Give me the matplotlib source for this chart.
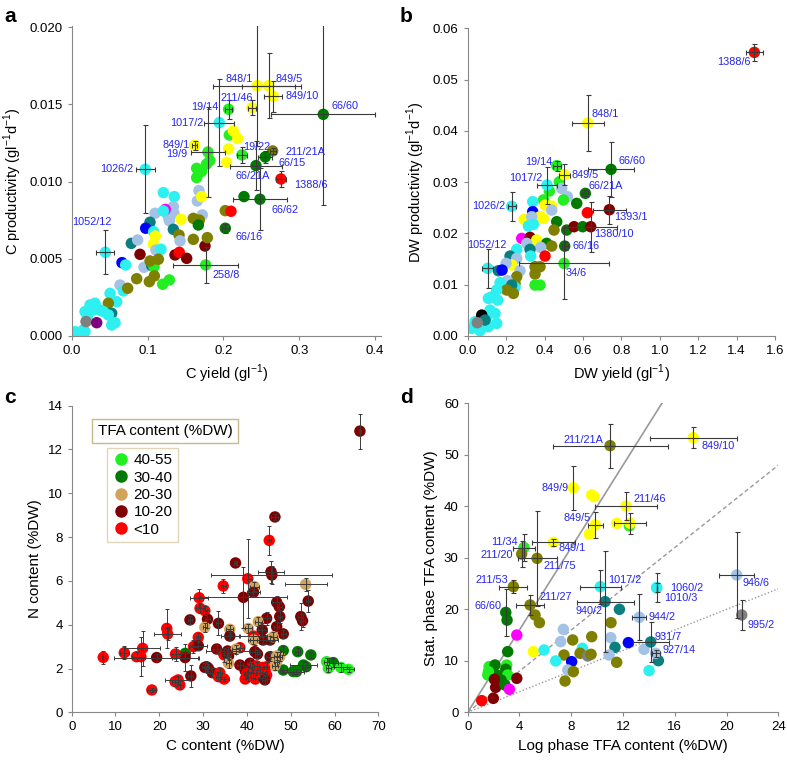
import matplotlib
matplotlib.use('Agg')
import matplotlib.pyplot as plt
import numpy as np
from matplotlib.lines import Line2D

from matplotlib import rcParams
rcParams['font.family'] = 'sans-serif'
rcParams['font.sans-serif'] = ['Liberation Sans', 'DejaVu Sans']
rcParams['font.size'] = 9

col = {'cy': '#2EF0F0', 'lb': '#A4C2E6', 'te': '#0A7F7F', 'ol': '#7F7F00',
       'ye': '#FFFF00', 'li': '#22EE22', 'dg': '#007A00', 're': '#FF0000',
       'dr': '#7F0000', 'bl': '#0000FF', 'ma': '#FF00FF', 'pu': '#800080',
       'gr': '#808080', 'bk': '#000000', 'ta': '#D2A35A'}

# ---------------- panel a: C yield vs C productivity ----------------
a_lab_names = ['848/1', '849/5', '849/10', '211/46', '19/14', '1017/2', '66/60', '849/1',
               '19/9', '19/22', '211/21A', '66/15', '66/21A', '1388/6', '66/62', '66/16',
               '258/8', '1026/2', '1052/12']
a_lab_x = [0.2447, 0.2596, 0.2658, 0.2376, 0.2068, 0.1945, 0.3318, 0.1619,
           0.1795, 0.2244, 0.2649, 0.2552, 0.2429, 0.2759, 0.2482, 0.2024,
           0.1765, 0.0968, 0.044]
a_lab_y = [0.01622, 0.01622, 0.01553, 0.01479, 0.01469, 0.01382, 0.01436, 0.01235,
           0.01192, 0.01173, 0.01199, 0.0116, 0.01104, 0.01017, 0.00886, 0.00698,
           0.0046, 0.0108, 0.00542]
a_lab_xerr = [0.058, 0.035, 0.012, 0.005, 0.005, 0.0198, 0.0687, 0.003,
              0.0229, 0.007, 0.004, 0.009, 0.0348, 0.0066, 0.0352, 0.005,
              0.043, 0.0128, 0.012]
a_lab_yerr = [0.0039, 0.0021, 0.001, 0.0005, 0.0006, 0.0028, 0.0059, 0.0003,
              0.0029, 0.0005, 0.0002, 0.0004, 0.0016, 0.0005, 0.002, 0.0003,
              0.00118, 0.00285, 0.00142]
a_lab_c = ['ye', 'ye', 'ye', 'ye', 'li', 'cy', 'dg', 'ye', 'li', 'li', 'ol', 'dg', 'dg',
           're', 'dg', 'dg', 'li', 'cy', 'cy']
a_lab_off = [(-4, 7, 'right'), (7, 7, 'left'), (12, 0, 'left'), (1, 10, 'right'),
             (-10, 2, 'right'), (-16, 0, 'right'), (8, 8, 'left'), (-5, 0, 'right'),
             (-21, -2, 'right'), (1, 8, 'left'), (13, -1, 'left'), (13, -6, 'left'),
             (-3, -10, 'center'), (13, -6, 'left'), (12, -11, 'left'), (10, -9, 'left'),
             (7, -10, 'left'), (-12, 0, 'right'), (-13, 30, 'center')]

a_x = [0.2077, 0.213, 0.2187, 0.2068, 0.2042, 0.1646, 0.171, 0.1646, 0.1778, 0.182,
       0.1206, 0.135, 0.1676, 0.1655, 0.171, 0.172, 0.1338, 0.1346, 0.1272, 0.1232,
       0.1096, 0.1206, 0.1285, 0.103, 0.0973, 0.1078, 0.11, 0.1338, 0.1413, 0.1426,
       0.144, 0.0783, 0.0867, 0.1074, 0.1109, 0.1175, 0.0898, 0.136, 0.1417, 0.1514,
       0.1756, 0.1602, 0.1681, 0.1668, 0.1602, 0.1787, 0.2024, 0.2099, 0.2271, 0.066,
       0.0708, 0.095, 0.1052, 0.1083, 0.103, 0.114, 0.0854, 0.1021, 0.1087, 0.1197,
       0.1285, 0.0634, 0.0678, 0.0735, 0.0502, 0.059, 0.048, 0.0524, 0.0238, 0.0304,
       0.037, 0.0172, 0.0202, 0.0414, 0.048, 0.0568, 0.0524, 0.015, 0.004, 0.0106,
       0.0172, 0.0282, 0.0185, 0.0326]
a_y = [0.01302, 0.01328, 0.0128, 0.01212, 0.01125, 0.01086, 0.01065, 0.01026, 0.01114, 0.01136,
       0.00929, 0.00903, 0.00942, 0.00875, 0.00903, 0.00784, 0.00838, 0.00795, 0.00773, 0.0082,
       0.00795, 0.0081, 0.00747, 0.00737, 0.00698, 0.00676, 0.00648, 0.00691, 0.00654, 0.00616,
       0.00756, 0.006, 0.00622, 0.00596, 0.00557, 0.00562, 0.00529, 0.00525, 0.00542, 0.00503,
       0.00583, 0.00762, 0.00751, 0.00719, 0.00626, 0.00637, 0.00812, 0.00808, 0.00903, 0.00475,
       0.0046, 0.00445, 0.00456, 0.00449, 0.00486, 0.00497, 0.00371, 0.00352, 0.00389, 0.00335,
       0.00363, 0.0033, 0.00292, 0.00309, 0.00276, 0.00222, 0.00212, 0.00147, 0.00201, 0.00212,
       0.00168, 0.00158, 0.00125, 0.00158, 0.00136, 0.00086, 0.00071, 0.00039, 0.00028, 0.00017,
       0.00028, 0.00168, 0.00093, 0.00086]
a_c = ['li', 'ye', 'ye', 'ye', 'ye', 'li', 'li', 'li', 'li', 'li',
       'cy', 'cy', 'lb', 'lb', 'ye', 'lb', 'lb', 'lb', 'lb', 'ma',
       'lb', 'cy', 'lb', 'te', 'bl', 'cy', 'ye', 'te', 'ol', 'lb',
       'ye', 'te', 'lb', 'ye', 'lb', 'cy', 'dr', 'dr', 're', 'dr',
       'dr', 'ol', 'ol', 'dg', 'ol', 'ol', 'ol', 're', 'dg', 'bl',
       'cy', 'lb', 'te', 'li', 'ol', 'ol', 'ol', 'ol', 'ol', 'li',
       'li', 'lb', 'cy', 'ol', 'cy', 'cy', 'ol', 'te', 'cy', 'cy',
       'cy', 'cy', 'cy', 'cy', 'cy', 'cy', 'cy', 'cy', 'cy', 'cy',
       'cy', 'cy', 'gr', 'pu']

# ---------------- panel b: DW yield vs DW productivity ----------------
b_lab_names = ['1388/6', '848/1', '19/14', '849/5', '66/60', '1017/2', '66/21A', '1026/2',
               '1393/1', '1380/10', '66/16', '34/6', '1052/12']
b_lab_x = [1.4924, 0.6247, 0.4633, 0.5033, 0.7462, 0.413, 0.6126, 0.229,
           0.7375, 0.6403, 0.505, 0.5015, 0.104]
b_lab_y = [0.05531, 0.04152, 0.0332, 0.03143, 0.03247, 0.02941, 0.02779, 0.02525,
           0.0246, 0.02128, 0.0175, 0.01412, 0.01315]
b_lab_xerr = [0.043, 0.0824, 0.02, 0.03, 0.1215, 0.052, 0.015, 0.02,
              0.085, 0.139, 0.015, 0.235, 0.03]
b_lab_yerr = [0.0016, 0.0055, 0.001, 0.002, 0.0054, 0.0036, 0.0006, 0.0028,
              0.0027, 0.0049, 0.0007, 0.007, 0.0038]
b_lab_c = ['re', 'ye', 'li', 'ye', 'dg', 'cy', 'dg', 'cy', 'dr', 'dr', 'dg', 'li', 'cy']
b_lab_off = [(-20, -10, 'center'), (4, 9, 'left'), (-4, 4, 'right'), (7, 0, 'left'),
             (7, 8, 'left'), (-5, 7, 'right'), (3, 7, 'left'), (-6, 0, 'right'),
             (5, -7, 'left'), (3, -7, 'left'), (8, 0, 'left'), (2, -10, 'left'),
             (-1, 23, 'center')]

b_x = [0.4772, 0.4894, 0.5189, 0.498, 0.4251, 0.394, 0.5675, 0.623, 0.4026, 0.4373,
       0.4373, 0.3384, 0.3384, 0.2933, 0.3766, 0.394, 0.3332, 0.3419, 0.316, 0.4633,
       0.4494, 0.5154, 0.5536, 0.5987, 0.2811, 0.3245, 0.3592, 0.3072, 0.4113, 0.4373,
       0.38, 0.3245, 0.4026, 0.2551, 0.2204, 0.2551, 0.328, 0.3506, 0.3766, 0.3506,
       0.2291, 0.1996, 0.2725, 0.2551, 0.2464, 0.3506, 0.3766, 0.1597, 0.1788, 0.2065,
       0.1684, 0.2464, 0.229, 0.203, 0.2377, 0.151, 0.125, 0.1076, 0.1562, 0.1163,
       0.1423, 0.0989, 0.151, 0.1076, 0.0642, 0.0382, 0.0208, 0.0642, 0.0729, 0.0902,
       0.0503]
b_y = [0.03006, 0.02876, 0.02714, 0.0265, 0.02824, 0.0265, 0.02584, 0.02401, 0.02551, 0.02532,
       0.02453, 0.02616, 0.02421, 0.02271, 0.02323, 0.02291, 0.02323, 0.02174, 0.02141, 0.02226,
       0.02063, 0.02063, 0.02128, 0.02128, 0.019, 0.0192, 0.01868, 0.01803, 0.01803, 0.0175,
       0.01725, 0.01686, 0.01555, 0.01686, 0.01555, 0.0151, 0.01555, 0.01347, 0.01347, 0.01204,
       0.0138, 0.01412, 0.01269, 0.01152, 0.01022, 0.00989, 0.00989, 0.01269, 0.01282, 0.01074,
       0.01035, 0.00944, 0.00989, 0.00892, 0.00826, 0.00892, 0.00761, 0.00729, 0.00696, 0.00501,
       0.00436, 0.00371, 0.00241, 0.00176, 0.00306, 0.00273, 0.00143, 0.00098, 0.00403, 0.00306,
       0.00254]
b_c = ['li', 'lb', 'lb', 'li', 'li', 'li', 'dg', 're', 'ye', 'ye',
       'lb', 'cy', 'bl', 'ye', 'ye', 'ye', 'lb', 'cy', 'cy', 'dg',
       'ol', 'dg', 'dr', 'dg', 'ma', 'dr', 'ye', 'lb', 'dg', 'ol',
       'lb', 'te', 're', 'cy', 'te', 'lb', 'cy', 'ol', 'ol', 'ol',
       'ye', 'lb', 'lb', 'ol', 'ol', 'li', 'li', 'te', 'bl', 'lb',
       'cy', 'cy', 'te', 'ol', 'ol', 'cy', 'cy', 'cy', 'cy', 'cy',
       'cy', 'cy', 'cy', 'cy', 'cy', 'cy', 'cy', 'cy', 'bk', 'te',
       'gr']

# ---------------- panel c: C content vs N content ----------------
c_x = [65.8, 46.4, 45.1, 37.4, 40.2, 45.5, 45.7, 53.4, 34.6, 41.7, 41.5, 39.2, 29.1, 54.0,
       46.8, 47.4, 29.3, 30.4, 27.0, 31.0, 52.3, 52.7, 44.5, 47.5, 33.5, 30.4, 42.6, 40.3,
       46.8, 48.3, 43.5, 21.7, 21.9, 28.9, 36.1, 36.1, 41.5, 43.7, 45.3, 46.0, 41.5, 27.8,
       28.9, 38.4, 33.1, 35.6, 37.5, 48.3, 51.6, 54.6, 58.2, 59.7, 58.6, 61.4, 63.2, 52.9,
       53.5, 48.3, 50.6, 51.3, 25.9, 25.9, 23.7, 7.2, 12.0, 16.2, 14.8, 15.8, 19.4, 34.8,
       35.4, 35.8, 41.8, 42.4, 45.3, 46.8, 47.5, 46.8, 30.8, 31.2, 35.8, 38.4, 40.7, 41.1,
       42.2, 43.7, 44.5, 46.4, 32.1, 33.8, 33.5, 34.8, 39.6, 40.0, 40.3, 41.5, 41.9, 43.0,
       43.7, 44.5, 44.1, 39.6, 27.2, 24.3, 24.7, 23.6, 18.3, 30.4]
c_y = [12.84, 8.92, 7.85, 6.82, 6.10, 6.42, 6.27, 5.84, 5.77, 5.74, 5.48, 5.25, 5.23, 5.08,
       5.02, 4.82, 4.75, 4.64, 4.22, 4.25, 4.37, 4.18, 4.29, 4.37, 4.06, 3.88, 4.14, 3.83,
       3.91, 3.58, 3.76, 3.83, 3.58, 3.42, 3.79, 3.48, 3.48, 3.30, 3.30, 3.45, 3.30, 3.00,
       3.04, 2.95, 2.89, 2.80, 2.88, 2.82, 2.77, 2.62, 2.31, 2.27, 2.01, 2.05, 1.96, 2.16,
       2.08, 1.93, 1.86, 1.86, 2.69, 2.50, 2.66, 2.51, 2.72, 2.92, 2.54, 2.54, 2.50, 2.62,
       2.69, 2.57, 2.77, 2.66, 2.54, 2.57, 2.54, 2.31, 2.08, 2.01, 2.24, 2.16, 2.24, 2.05,
       2.12, 2.05, 2.08, 2.12, 1.81, 1.81, 1.63, 1.52, 1.90, 1.78, 1.63, 1.78, 1.52, 1.78,
       1.78, 1.70, 1.48, 1.52, 1.66, 1.48, 1.25, 1.40, 1.02, 2.05]
c_xerr = [0.3, 0.8, 0.5, 0.4, 1.0, 3.0, 13.8, 4.8, 0.6, 1.0, 1.5, 10.0, 2.0, 0.5,
          1.0, 0.5, 1.0, 0.5, 0.5, 0.5, 0.6, 0.6, 0.8, 0.5, 0.5, 0.5, 0.8, 0.8,
          0.6, 0.6, 1.0, 0.5, 3.0, 0.5, 0.8, 2.0, 3.0, 3.5, 1.0, 0.8, 0.8, 1.0,
          2.0, 1.0, 0.8, 5.0, 0.8, 0.8, 0.6, 0.5, 0.6, 1.0, 0.5, 1.5, 1.3, 3.0,
          1.0, 0.8, 2.5, 0.8, 1.0, 3.0, 1.0, 0.3, 1.0, 4.0, 1.0, 1.0, 9.7, 0.8,
          2.0, 0.6, 1.0, 0.6, 1.0, 0.6, 0.6, 0.6, 0.6, 0.6, 0.6, 0.6, 0.6, 0.6,
          0.6, 0.6, 0.6, 0.6, 0.6, 0.6, 0.6, 1.0, 0.6, 0.6, 0.6, 0.6, 0.6, 0.6,
          0.6, 0.6, 0.6, 0.6, 0.6, 3.0, 0.6, 0.6, 1.0, 0.6]
c_yerr = [0.8, 0.12, 0.65, 0.1, 1.8, 0.5, 0.4, 0.3, 0.3, 0.2, 0.15, 1.4, 0.4, 0.5,
          0.3, 0.2, 0.2, 0.2, 0.2, 0.4, 0.6, 0.3, 0.3, 0.3, 0.55, 0.2, 0.2, 0.2,
          0.2, 0.2, 0.3, 0.9, 0.3, 0.2, 0.2, 0.2, 0.2, 0.2, 0.2, 0.2, 0.2, 0.3,
          0.2, 0.2, 0.2, 0.2, 0.2, 0.2, 0.15, 0.15, 0.15, 0.2, 0.15, 0.2, 0.1, 0.2,
          0.2, 0.15, 0.1, 0.1, 0.2, 0.6, 0.3, 0.3, 0.3, 0.8, 0.2, 0.9, 0.15, 0.3,
          0.2, 0.2, 0.3, 0.2, 0.2, 0.2, 0.2, 0.2, 0.2, 0.2, 0.2, 0.2, 0.2, 0.2,
          0.2, 0.2, 0.2, 0.2, 0.2, 0.2, 0.2, 0.1, 0.2, 0.2, 0.2, 0.2, 0.2, 0.2,
          0.2, 0.2, 0.2, 0.2, 0.5, 0.2, 0.2, 0.2, 0.1, 0.2]
c_c = ['dr', 'dr', 're', 'dr', 're', 'dr', 'dr', 'ta', 're', 'ta', 'dr', 'dr', 're', 'dr',
       'dr', 'dr', 're', 're', 'dr', 'dr', 'dr', 'dr', 'dr', 'dr', 'dr', 'ta', 'ta', 'ta',
       'dr', 'dr', 'dr', 're', 're', 're', 'ta', 'dr', 're', 'dr', 'dr', 'ta', 'ta', 're',
       'dr', 're', 'dr', 'dr', 'ta', 'dg', 'dg', 'dg', 'li', 'dg', 'li', 'li', 'li', 'dg',
       'dg', 'dg', 'dg', 'dg', 'dg', 'dr', 're', 're', 're', 're', 're', 're', 'dr', 're',
       'dr', 'dr', 'dr', 'dr', 'dr', 'ta', 'ta', 'ta', 'dr', 'dr', 'ta', 'dr', 'dr', 're',
       're', 're', 're', 'ta', 'dr', 're', 're', 're', 'dr', 're', 're', 're', 're', 're',
       're', 're', 'dr', 're', 'dr', 're', 're', 're', 're', 'dr']
c_leg_labels = ['40-55', '30-40', '20-30', '10-20', '<10']
c_leg_c = ['li', 'dg', 'ta', 'dr', 're']

# ---------------- panel d: log phase vs stat. phase TFA ----------------
d_lab_names = ['211/21A', '849/10', '849/9', '211/46', '849/5', '', '849/1', '11/34',
               '211/20', '211/75', '211/53', '66/60', '211/27', '1017/2', '940/2',
               '1060/2', '1010/3', '944/2', '931/7', '927/14', '946/6', '995/2']
d_lab_x = [11.0, 17.43, 8.16, 12.23, 9.86, 12.54, 6.62, 4.35,
           4.17, 5.36, 3.53, 2.94, 4.82, 10.25, 10.61,
           14.6, 14.6, 13.26, 14.14, 14.52, 20.78, 21.17]
d_lab_y = [51.78, 53.33, 43.6, 40.06, 36.38, 36.7, 33.0, 32.0,
           30.74, 29.9, 24.4, 19.4, 20.84, 24.4, 21.49,
           24.2, 24.2, 18.45, 13.66, 11.46, 26.67, 18.9]
d_lab_xerr = [4.44, 3.35, 0.0, 2.42, 0.6, 1.22, 1.67, 0.84,
              0.0, 1.5, 1.08, 0.0, 1.08, 1.58, 2.2,
              0.0, 0.0, 0.55, 1.38, 0.3, 1.34, 0.0]
d_lab_yerr = [4.3, 2.1, 4.3, 2.8, 2.5, 2.0, 0.7, 2.6,
              2.6, 9.2, 1.3, 4.6, 2.0, 3.3, 9.8,
              2.8, 0.9, 4.5, 3.9, 0.7, 8.4, 3.0]
d_lab_c = ['ol', 'ye', 'ye', 'ye', 'ye', 'ye', 'ye', 'li',
           'ol', 'ol', 'ol', 'dg', 'ol', 'cy', 'te',
           'cy', 'cy', 'lb', 'te', 'lb', 'lb', 'gr']
d_lab_off = [(-7, 6, 'right'), (8, -8, 'left'), (-5, 0, 'right'), (7, 7, 'left'),
             (-5, 7, 'right'), (0, 0, 'left'), (5, -6, 'left'), (-6, 6, 'right'),
             (-9, -1, 'right'), (6, -8, 'left'), (-5, 7, 'right'), (-4, 6, 'right'),
             (9, 8, 'left'), (8, 7, 'left'), (-3, -9, 'right'),
             (13, 0, 'left'), (7, -10, 'left'), (9, 0, 'left'), (4, 5, 'left'),
             (7, 3, 'left'), (6, -8, 'left'), (6, -10, 'left')]

d_x = [9.58, 9.76, 11.51, 9.4, 12.49, 5.2, 5.54, 3.04, 3.79, 3.09,
       11.07, 11.72, 7.39, 7.18, 8.11, 9.58, 11.05, 11.38, 12.41, 13.62,
       10.92, 11.51, 14.73, 14.01, 7.44, 8.86, 8.68, 9.27, 9.53, 8.03,
       6.8, 7.73, 8.16, 7.52, 5.07, 5.9, 1.65, 1.55, 2.11, 2.24,
       3.01, 2.94, 3.09, 1.6, 2.58, 2.06, 2.16, 3.79, 2.88, 3.22,
       1.98, 1.08]
d_y = [42.2, 41.88, 36.7, 34.63, 36.2, 18.9, 17.41, 17.9, 15.0, 11.78,
       17.41, 20.0, 16.1, 13.72, 14.05, 14.69, 14.5, 12.62, 13.53, 12.23,
       11.13, 9.71, 10.03, 8.09, 11.13, 12.43, 11.46, 10.94, 11.26, 9.84,
       9.97, 8.22, 7.9, 6.08, 11.78, 12.1, 8.87, 7.25, 9.19, 7.25,
       9.19, 8.35, 7.25, 7.9, 6.28, 6.41, 4.85, 6.6, 5.3, 4.47,
       2.72, 2.27]
d_c = ['ye', 'ye', 'ye', 'ye', 'li', 'ol', 'ol', 'dg', 'ma', 'dg',
       'ol', 'te', 'lb', 'lb', 'ol', 'ol', 'lb', 'te', 'bl', 'lb',
       'lb', 'ol', 'te', 'cy', 'ol', 'cy', 'ol', 'gr', 'ol', 'bl',
       'cy', 'lb', 'ol', 'ol', 'ye', 'cy', 'li', 'li', 'dg', 'dg',
       'li', 'dg', 'li', 'li', 'dg', 'dr', 'dr', 'dr', 'dg', 'ma',
       'dr', 're']
d_slopes = [4, 2, 1]

LAB = '#2424F0'
ECOL = '#3a3a3a'
MS = 68


def style(ax):
    for s in ['top', 'right']:
        ax.spines[s].set_visible(False)
    for s in ['left', 'bottom']:
        ax.spines[s].set_color('#888888')
    ax.tick_params(direction='out', length=3, color='#888888', labelsize=9.5)


def draw(ax, x, y, c):
    ax.scatter(x, y, s=MS, c=[col[k] for k in c], edgecolors='none', zorder=2)


def draw_lab(ax, names, x, y, xe, ye, c, off):
    ax.scatter(x, y, s=MS, c=[col[k] for k in c], edgecolors='none', zorder=2)
    ax.errorbar(x, y, xerr=xe, yerr=ye, fmt='none', ecolor=ECOL, elinewidth=0.8,
                capsize=1.8, capthick=0.8, zorder=3)
    for n, xi, yi, (dx, dy, ha) in zip(names, x, y, off):
        if n:
            ax.annotate(n, (xi, yi), xytext=(dx, dy), textcoords='offset pixels',
                        ha=ha, va='center', color=LAB, fontsize=7.8, zorder=4)


fig = plt.figure(figsize=(7.87, 7.62), dpi=100)

# a
ax = fig.add_axes([0.0915, 0.5591, 0.3926, 0.4071])
style(ax)
draw(ax, a_x, a_y, a_c)
draw_lab(ax, a_lab_names, a_lab_x, a_lab_y, a_lab_xerr, a_lab_yerr, a_lab_c, a_lab_off)
ax.set_xlim(0, 0.408)
ax.set_ylim(0, 0.0201)
ax.set_xticks([0, 0.1, 0.2, 0.3, 0.4])
ax.set_xticklabels(['0.0', '0.1', '0.2', '0.3', '0.4'])
ax.set_yticks([0, 0.005, 0.01, 0.015, 0.02])
ax.set_yticklabels(['0.000', '0.005', '0.010', '0.015', '0.020'])
ax.set_xlabel(r'C yield (gl$^{\mathregular{-1}}$)', fontsize=10.5)
ax.set_ylabel(r'C productivity (gl$^{\mathregular{-1}}$d$^{\mathregular{-1}}$)', fontsize=10.5)

# b
ax = fig.add_axes([0.5943, 0.5594, 0.3905, 0.4034])
style(ax)
draw(ax, b_x, b_y, b_c)
draw_lab(ax, b_lab_names, b_lab_x, b_lab_y, b_lab_xerr, b_lab_yerr, b_lab_c, b_lab_off)
ax.set_xlim(0, 1.6)
ax.set_ylim(0, 0.06)
ax.set_xticks(np.arange(0, 1.61, 0.2))
ax.set_xticklabels(['%.1f' % v for v in np.arange(0, 1.61, 0.2)])
ax.set_yticks(np.arange(0, 0.061, 0.01))
ax.set_yticklabels(['%.2f' % v for v in np.arange(0, 0.061, 0.01)])
ax.set_xlabel(r'DW yield (gl$^{\mathregular{-1}}$)', fontsize=10.5)
ax.set_ylabel(r'DW productivity (gl$^{\mathregular{-1}}$d$^{\mathregular{-1}}$)', fontsize=10.5)

# c
ax = fig.add_axes([0.0911, 0.0652, 0.3896, 0.4024])
style(ax)
ax.scatter(c_x, c_y, s=MS, c=[col[k] for k in c_c], edgecolors='none', zorder=2)
ax.errorbar(c_x, c_y, xerr=c_xerr, yerr=c_yerr, fmt='none', ecolor=ECOL, elinewidth=0.7,
            capsize=1.6, capthick=0.7, zorder=3)
ax.set_xlim(0, 70)
ax.set_ylim(0, 14)
ax.set_xticks(range(0, 71, 10))
ax.set_yticks(range(0, 15, 2))
ax.set_xlabel('C content (%DW)', fontsize=11)
ax.set_ylabel('N content (%DW)', fontsize=11)
handles = [Line2D([], [], marker='o', ls='none', markersize=9, markerfacecolor=col[k],
                  markeredgecolor='none') for k in c_leg_c]
leg = ax.legend(handles, c_leg_labels, loc='upper left', bbox_to_anchor=(0.115, 0.862),
                borderaxespad=0, fontsize=11, fancybox=False, handletextpad=0.2,
                labelspacing=0.22, borderpad=0.35, handlelength=1.2)
leg.get_frame().set_edgecolor('#D8CCA8')
ax.text(0.304, 0.917, 'TFA content (%DW)', transform=ax.transAxes, ha='center', va='center',
        fontsize=11, bbox=dict(boxstyle='square,pad=0.35', fc='white', ec='#C8B88A'))

# d
ax = fig.add_axes([0.5943, 0.0652, 0.3947, 0.4055])
style(ax)
xs = np.array([0, 24])
ax.plot([0, 15], [0, 60], color='#999999', lw=1.2, zorder=1)
ax.plot(xs, xs * d_slopes[1], color='#999999', lw=1.0, ls=(0, (3, 2)), zorder=1)
ax.plot(xs, xs * d_slopes[2], color='#999999', lw=1.0, ls=(0, (1, 1.5)), zorder=1)
draw(ax, d_x, d_y, d_c)
draw_lab(ax, d_lab_names, d_lab_x, d_lab_y, d_lab_xerr, d_lab_yerr, d_lab_c, d_lab_off)
ax.set_xlim(0, 24)
ax.set_ylim(0, 60)
ax.set_xticks(range(0, 25, 4))
ax.set_yticks(range(0, 61, 10))
ax.set_xlabel('Log phase TFA content (%DW)', fontsize=11)
ax.set_ylabel('Stat. phase TFA content (%DW)', fontsize=11)

for letter, (fx, fy) in zip('abcd', [(0.005, 0.978), (0.508, 0.978), (0.005, 0.478), (0.508, 0.478)]):
    fig.text(fx, fy, letter, fontsize=15, fontweight='bold', va='center')

fig.savefig('out.png', dpi=100)
